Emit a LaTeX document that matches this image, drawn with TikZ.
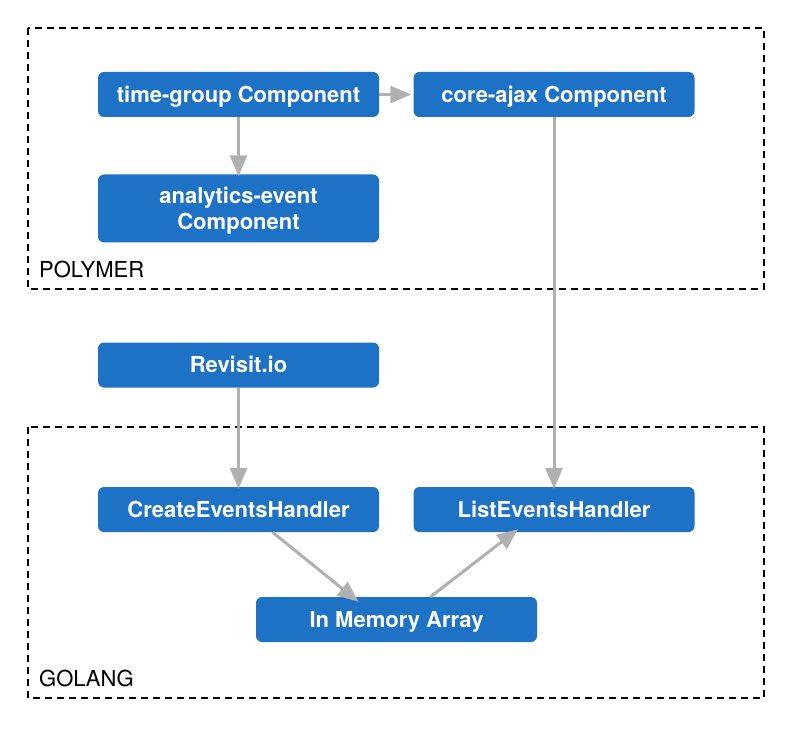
\documentclass[tikz,border=0pt]{standalone}
\usepackage{fontspec}
\setmainfont{TeX Gyre Heros}
\usetikzlibrary{arrows.meta,calc}
\definecolor{boxblue}{HTML}{1E72C6}
\definecolor{arrowgray}{HTML}{B0B0B0}
\begin{document}
\begin{tikzpicture}[
    x=1pt, y=-1pt,
    arr/.style={-{Triangle[length=21pt,width=17pt]}, line width=3pt, draw=arrowgray},
    compbox/.style={draw=none, fill=boxblue, rounded corners=6pt,
        minimum width=281pt, minimum height=45pt, align=center,
        text height=15.8pt, text depth=0pt,
        text=white, font=\fontsize{22}{26}\selectfont\bfseries},
    groupbox/.style={draw=black, line width=1.2pt, dash pattern=on 7pt off 5pt},
    grouplabel/.style={anchor=base west, inner sep=0pt,
        font=\fontsize{22}{26}\selectfont}
]
\useasboundingbox (0,0) rectangle (800,735);

%------------------------------------------------
% groups
%------------------------------------------------
\draw[groupbox] (28,28) rectangle (764,289);
\draw[groupbox] (28,427) rectangle (764,698);
\node[grouplabel] (polymer) at (39,277) {POLYMER};
\node[grouplabel] (golang)  at (39,686) {GOLANG};

%------------------------------------------------
% components
%------------------------------------------------
\node[compbox] (timegroup) at (238.5,94.5) {time-group Component};
\node[compbox] (coreajax)  at (554,94.5) {core-ajax Component};
\node[compbox, minimum height=68pt, text height=41.8pt] (analytics)
    at (238.5,208.5) {analytics-event\\Component};

\node[compbox] (revisit) at (238.5,365) {Revisit.io};

\node[compbox] (create) at (238.5,509.5) {CreateEventsHandler};
\node[compbox] (list)   at (554,509.5) {ListEventsHandler};
\node[compbox] (memory) at (396.5,619.5) {In Memory Array};

%------------------------------------------------
% arrows
%------------------------------------------------
\draw[arr] (timegroup.east) -- ([xshift=-2pt]coreajax.west);
\draw[arr] (timegroup.south) -- ([yshift=-2pt]analytics.north);
\draw[arr] (coreajax.south) -- ([yshift=-2pt]list.north);
\draw[arr] (revisit.south) -- ([yshift=-2pt]create.north);

\draw[arr] ([xshift=34pt]create.south) -- ([xshift=-38pt,yshift=-5pt]memory.north);
\draw[arr] ([xshift=34pt]memory.north) -- ([xshift=-36pt,yshift=3pt]list.south);

\end{tikzpicture}
\end{document}
